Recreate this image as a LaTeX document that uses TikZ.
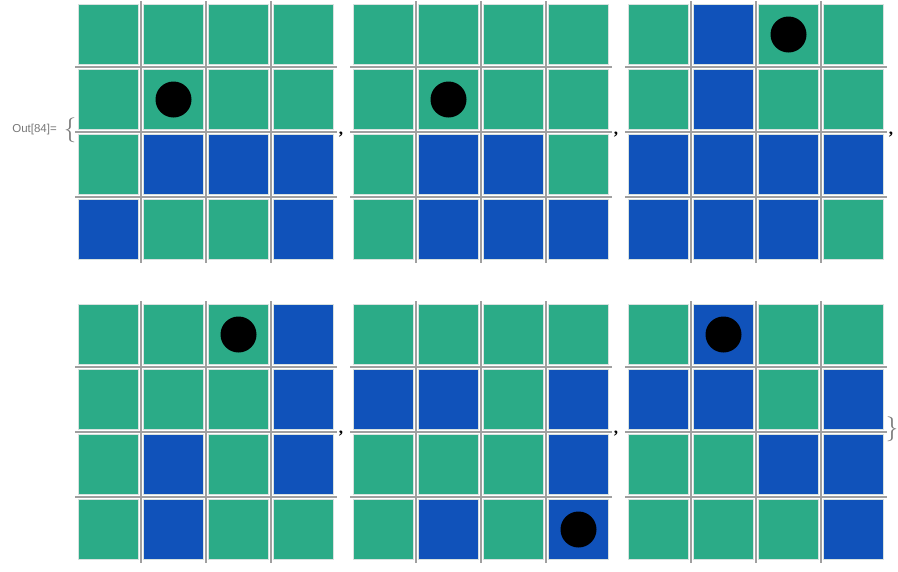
\documentclass[tikz,border=0pt]{standalone}
\usepackage{fontspec}
\setmainfont{Liberation Serif}
\newfontfamily\outfont{Liberation Sans}
\usepackage{tikz}
\usetikzlibrary{positioning, calc}
\definecolor{cG}{RGB}{43,171,135}
\definecolor{cB}{RGB}{16,82,186}
\definecolor{gridgray}{RGB}{160,160,160}
\definecolor{cellrim}{RGB}{215,225,222}
\definecolor{outgray}{RGB}{120,120,120}

\tikzset{
  cell/.style={draw=cellrim, line width=0.8pt, minimum size=60pt, inner sep=0pt},
  ball/.style={circle, fill=black, minimum size=36pt, inner sep=0pt},
  gridline/.style={draw=gridgray, line width=1.8pt},
  sepmark/.style={font=\fontsize{17}{17}\selectfont\bfseries, inner sep=0pt, anchor=base},
  bracemark/.style={font=\fontsize{24}{24}\selectfont, text=outgray, inner sep=0pt}
}

\begin{document}
\begin{tikzpicture}[x=1pt, y=-1pt]
    \useasboundingbox (0,0) rectangle (898,571);

    % Out label and braces
    \node[anchor=east, font=\outfont\fontsize{11.5}{12}\selectfont, text=outgray, inner sep=0pt] (out) at (57,130) {Out[84]=};
    \node[bracemark] (lbrace) at (70,130) {$\{$};
    \node[bracemark] (rbrace) at (892,429) {$\}$};

    % The six boards: number / left / top / rows / ball row / ball column
    \foreach \g/\gx/\gy/\pat/\dr/\dc in {
        1/78/4/{{G,G,G,G},{G,G,G,G},{G,B,B,B},{B,G,G,B}}/2/2,
        2/353/4/{{G,G,G,G},{G,G,G,G},{G,B,B,G},{G,B,B,B}}/2/2,
        3/628/4/{{G,B,G,G},{G,B,G,G},{B,B,B,B},{B,B,B,G}}/1/3,
        4/78/304/{{G,G,G,B},{G,G,G,B},{G,B,G,B},{G,B,G,G}}/1/3,
        5/353/304/{{G,G,G,G},{B,B,G,B},{G,G,G,B},{G,B,G,B}}/4/4,
        6/628/304/{{G,B,G,G},{B,B,G,B},{G,G,B,B},{G,G,G,B}}/1/2} {
      \foreach \rowpat [count=\i] in \pat {
        \foreach \c [count=\j] in \rowpat {
          \node[cell, fill=c\c] (g\g-\i-\j) at ({\gx+65*(\j-1)+30.5}, {\gy+65*(\i-1)+30.5}) {};
        }
      }
      % lines between the cells
      \foreach \k in {1,2,3} {
        \draw[gridline] ({\gx+65*\k-2}, {\gy-3}) -- ({\gx+65*\k-2}, {\gy+259});
        \draw[gridline] ({\gx-3}, {\gy+65*\k-2}) -- ({\gx+259}, {\gy+65*\k-2});
      }
      \node[ball] (ball\g) at (g\g-\dr-\dc) {};
    }

    % commas between the boards
    \node[sepmark] (sep1) at (341,134) {,};
    \node[sepmark] (sep2) at (616,134) {,};
    \node[sepmark] (sep3) at (891,134) {,};
    \node[sepmark] (sep4) at (341,433) {,};
    \node[sepmark] (sep5) at (616,433) {,};
\end{tikzpicture}
\end{document}
